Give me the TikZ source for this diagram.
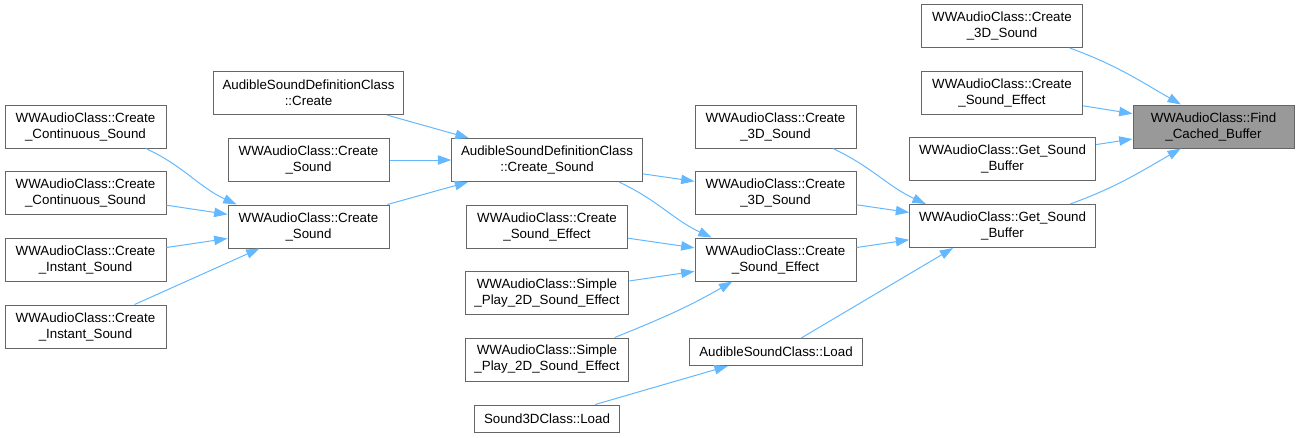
\documentclass[tikz,border=0pt]{standalone}
\usepackage{fontspec}
\setmainfont{Liberation Sans}
\usepackage{tikz}
\usetikzlibrary{arrows.meta, positioning}
\definecolor{edgeblue}{HTML}{63B8FF}
\definecolor{boxgray}{HTML}{666666}
\definecolor{hilite}{HTML}{999999}

\begin{document}
\begin{tikzpicture}[
	x=0.75pt, y=-0.75pt,
	func/.style={rectangle, draw=boxgray, fill=white, line width=0.75pt, align=center,
		font=\fontsize{10}{12}\selectfont, inner xsep=7pt, inner ysep=2pt,
		minimum width=120.75pt, minimum height=32.25pt},
	single/.style={func, minimum height=20.25pt},
	current/.style={func, fill=hilite},
	call/.style={-{Triangle[length=10pt, width=7pt]}, draw=edgeblue, line width=0.75pt}
	]
	\useasboundingbox (0,0) rectangle (1296,437);
	
	% --- Column 0: outer callers ---
	\node[func] (contA) at (85.5,126.5) {WWAudioClass::Create\\\_Continuous\_Sound};
	\node[func] (contB) at (85.5,193) {WWAudioClass::Create\\\_Continuous\_Sound};
	\node[func] (instA) at (85.5,259.5) {WWAudioClass::Create\\\_Instant\_Sound};
	\node[func] (instB) at (85.5,326.5) {WWAudioClass::Create\\\_Instant\_Sound};
	
	% --- Column 1 ---
	\node[func] (defCreate) at (308.5,93) {AudibleSoundDefinitionClass\\::Create};
	\node[func] (sndA) at (308.5,160) {WWAudioClass::Create\\\_Sound};
	\node[func] (sndB) at (308.5,226.5) {WWAudioClass::Create\\\_Sound};
	
	% --- Column 2 ---
	\node[func] (defSound) at (547,160) {AudibleSoundDefinitionClass\\::Create\_Sound};
	\node[func] (fxA) at (547,226.5) {WWAudioClass::Create\\\_Sound\_Effect};
	\node[func] (playA) at (547,293) {WWAudioClass::Simple\\\_Play\_2D\_Sound\_Effect};
	\node[func] (playB) at (547,359.5) {WWAudioClass::Simple\\\_Play\_2D\_Sound\_Effect};
	\node[single, minimum width=0pt] (load3d) at (547,418.5) {Sound3DClass::Load};
	
	% --- Column 3 ---
	\node[func] (c3dA) at (775.5,126.5) {WWAudioClass::Create\\\_3D\_Sound};
	\node[func] (c3dB) at (775.5,193) {WWAudioClass::Create\\\_3D\_Sound};
	\node[func] (fxB) at (775.5,259.5) {WWAudioClass::Create\\\_Sound\_Effect};
	\node[single] (loadAud) at (776,352) {AudibleSoundClass::Load};
	
	% --- Column 4 ---
	\node[func] (c3dC) at (1002,26) {WWAudioClass::Create\\\_3D\_Sound};
	\node[func] (fxC) at (1002,93) {WWAudioClass::Create\\\_Sound\_Effect};
	\node[func] (bufA) at (1002.5,159) {WWAudioClass::Get\_Sound\\\_Buffer};
	\node[func] (bufB) at (1002.5,226) {WWAudioClass::Get\_Sound\\\_Buffer};
	
	% --- Column 5: the function itself ---
	\node[current] (find) at (1213.5,126.5) {WWAudioClass::Find\\\_Cached\_Buffer};
	
	% --- Calls into Find_Cached_Buffer ---
	\draw[call] (c3dC.-18) to[out=-20, in=150] (find.146);
	\draw[call] (fxC) -- (find);
	\draw[call] (bufA) -- (find);
	\draw[call] (bufB.18) to[out=20, in=-150] (find.-146);
	
	% --- Calls into Get_Sound_Buffer ---
	\draw[call] (c3dA.-21) to[out=-25, in=155] (bufB.164);
	\draw[call] (c3dB) -- (bufB);
	\draw[call] (fxB) -- (bufB);
	\draw[call] (loadAud.29) -- (bufB.-156);
	
	% --- Column 2 to column 3 ---
	\draw[call] (defSound) -- (c3dB);
	\draw[call] (defSound.-17) to[out=-25, in=155] (fxB.161);
	\draw[call] (fxA) -- (fxB);
	\draw[call] (playA) -- (fxB);
	\draw[call] (playB.18) to[out=22, in=-150] (fxB.-153);
	\draw[call] (load3d) -- (loadAud);
	
	% --- Column 1 to column 2 ---
	\draw[call] (defCreate) -- (defSound);
	\draw[call] (sndA) -- (defSound);
	\draw[call] (sndB) -- (defSound);
	
	% --- Column 0 to column 1 ---
	\draw[call] (contA.-20) to[out=-25, in=155] (sndB.163);
	\draw[call] (contB) -- (sndB);
	\draw[call] (instA) -- (sndB);
	\draw[call] (instB) -- (sndB);
\end{tikzpicture}
\end{document}
